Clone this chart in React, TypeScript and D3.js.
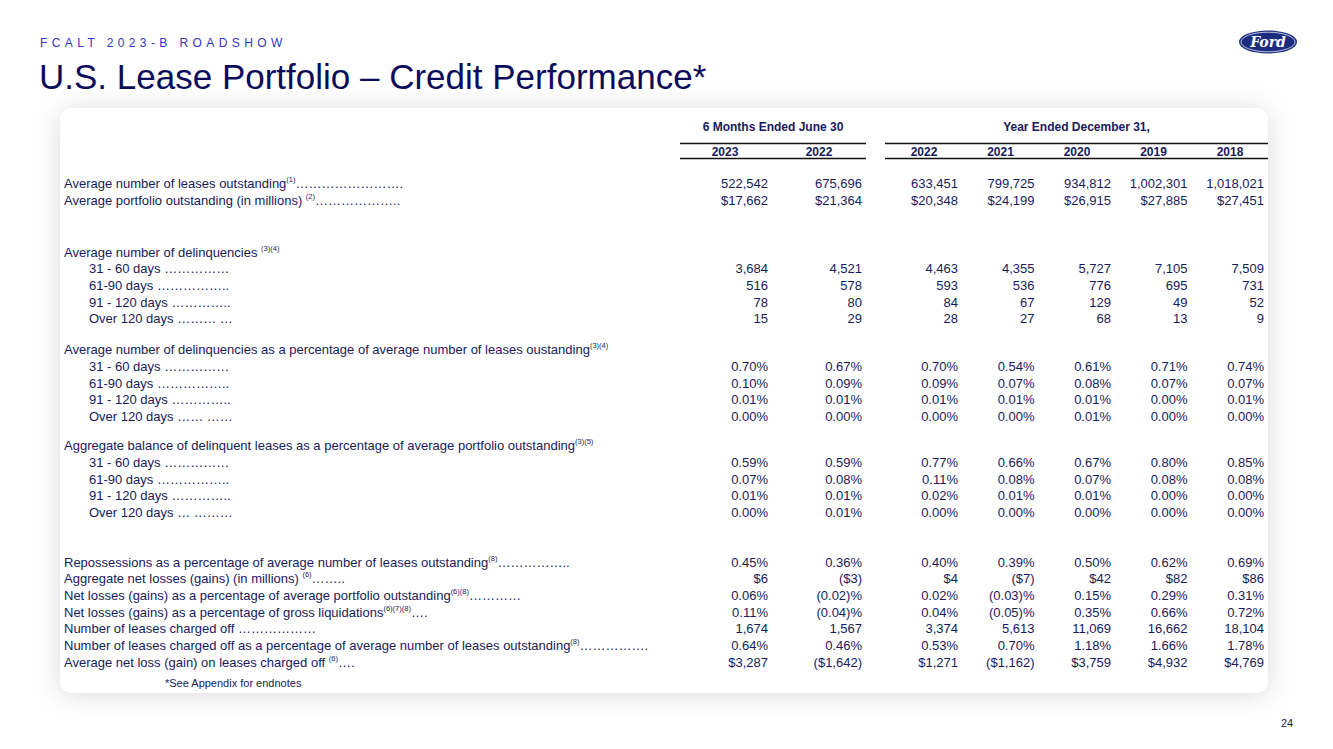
import React from 'react';
import * as d3 from 'd3';

// column headings
const periodGroups = ['6 Months Ended June 30', 'Year Ended December 31,'];
const periods = ['2023', '2022', '2022', '2021', '2020', '2019', '2018'];
const periodGroupOf = [0, 0, 1, 1, 1, 1, 1];

// table values, one array per row
const leasesOutstanding = ['522,542', '675,696', '633,451', '799,725', '934,812', '1,002,301', '1,018,021'];
const portfolioOutstanding = ['$17,662', '$21,364', '$20,348', '$24,199', '$26,915', '$27,885', '$27,451'];
const delinq3160 = ['3,684', '4,521', '4,463', '4,355', '5,727', '7,105', '7,509'];
const delinq6190 = ['516', '578', '593', '536', '776', '695', '731'];
const delinq91120 = ['78', '80', '84', '67', '129', '49', '52'];
const delinqOver120 = ['15', '29', '28', '27', '68', '13', '9'];
const delinqPct3160 = ['0.70%', '0.67%', '0.70%', '0.54%', '0.61%', '0.71%', '0.74%'];
const delinqPct6190 = ['0.10%', '0.09%', '0.09%', '0.07%', '0.08%', '0.07%', '0.07%'];
const delinqPct91120 = ['0.01%', '0.01%', '0.01%', '0.01%', '0.01%', '0.00%', '0.01%'];
const delinqPctOver120 = ['0.00%', '0.00%', '0.00%', '0.00%', '0.01%', '0.00%', '0.00%'];
const balancePct3160 = ['0.59%', '0.59%', '0.77%', '0.66%', '0.67%', '0.80%', '0.85%'];
const balancePct6190 = ['0.07%', '0.08%', '0.11%', '0.08%', '0.07%', '0.08%', '0.08%'];
const balancePct91120 = ['0.01%', '0.01%', '0.02%', '0.01%', '0.01%', '0.00%', '0.00%'];
const balancePctOver120 = ['0.00%', '0.01%', '0.00%', '0.00%', '0.00%', '0.00%', '0.00%'];
const repossessionsPct = ['0.45%', '0.36%', '0.40%', '0.39%', '0.50%', '0.62%', '0.69%'];
const netLosses = ['$6', '($3)', '$4', '($7)', '$42', '$82', '$86'];
const netLossPctPortfolio = ['0.06%', '(0.02)%', '0.02%', '(0.03)%', '0.15%', '0.29%', '0.31%'];
const netLossPctLiquidations = ['0.11%', '(0.04)%', '0.04%', '(0.05)%', '0.35%', '0.66%', '0.72%'];
const chargedOff = ['1,674', '1,567', '3,374', '5,613', '11,069', '16,662', '18,104'];
const chargedOffPct = ['0.64%', '0.46%', '0.53%', '0.70%', '1.18%', '1.66%', '1.78%'];
const avgNetLoss = ['$3,287', '($1,642)', '$1,271', '($1,162)', '$3,759', '$4,932', '$4,769'];

type Row = { label: string; sup?: string; leader?: string; sub?: boolean; values?: string[] };

// dotted leader: n ellipsis glyphs plus a tail
const dots = (n: number, tail = '') => '\u2026'.repeat(n) + tail;

const sections: Row[][] = [
  [
    { label: 'Average number of leases outstanding', sup: '(1)', leader: dots(8, '.'), values: leasesOutstanding },
    { label: 'Average portfolio outstanding (in millions) ', sup: '(2)', leader: dots(6, '..'), values: portfolioOutstanding },
  ],
  [
    { label: 'Average number of delinquencies ', sup: '(3)(4)' },
    { label: '31 - 60 days ', leader: dots(5), sub: true, values: delinq3160 },
    { label: '61-90 days ', leader: dots(5, '..'), sub: true, values: delinq6190 },
    { label: '91 - 120 days ', leader: dots(4, '..'), sub: true, values: delinq91120 },
    { label: 'Over 120 days ', leader: dots(3, ' \u2026'), sub: true, values: delinqOver120 },
  ],
  [
    { label: 'Average number of delinquencies as a percentage of average number of leases oustanding', sup: '(3)(4)' },
    { label: '31 - 60 days ', leader: dots(5), sub: true, values: delinqPct3160 },
    { label: '61-90 days ', leader: dots(5, '..'), sub: true, values: delinqPct6190 },
    { label: '91 - 120 days ', leader: dots(4, '..'), sub: true, values: delinqPct91120 },
    { label: 'Over 120 days ', leader: dots(2, ' \u2026\u2026'), sub: true, values: delinqPctOver120 },
  ],
  [
    { label: 'Aggregate balance of delinquent leases as a percentage of average portfolio outstanding', sup: '(3)(5)' },
    { label: '31 - 60 days ', leader: dots(5), sub: true, values: balancePct3160 },
    { label: '61-90 days ', leader: dots(5, '..'), sub: true, values: balancePct6190 },
    { label: '91 - 120 days ', leader: dots(4, '..'), sub: true, values: balancePct91120 },
    { label: 'Over 120 days ', leader: dots(1, ' \u2026\u2026\u2026'), sub: true, values: balancePctOver120 },
  ],
  [
    { label: 'Repossessions as a percentage of average number of leases outstanding', sup: '(8)', leader: dots(5, '..'), values: repossessionsPct },
    { label: 'Aggregate net losses (gains) (in millions) ', sup: '(6)', leader: dots(2, '..'), values: netLosses },
    { label: 'Net losses (gains) as a percentage of average portfolio outstanding', sup: '(6)(8)', leader: dots(4), values: netLossPctPortfolio },
    { label: 'Net losses (gains) as a percentage of gross liquidations', sup: '(6)(7)(8)', leader: dots(1, '.'), values: netLossPctLiquidations },
    { label: 'Number of leases charged off ', leader: dots(6), values: chargedOff },
    { label: 'Number of leases charged off as a percentage of average number of leases outstanding', sup: '(8)', leader: dots(5, '.'), values: chargedOffPct },
    { label: 'Average net loss (gain) on leases charged off ', sup: '(6)', leader: dots(1, '.'), values: avgNetLoss },
  ],
];
// blank line slots before each section
const sectionGaps = [0, 2.1, 0.88, 0.75, 2];

const W = 1333;
const H = 749;
const navy = '#171a5c';
const font = '"Liberation Sans", Arial, sans-serif';
const fs = 13;
const supFs = 7.5;

const card = { x: 60, y: 108, w: 1208, h: 585 };

// x: right edge of each value column
const xSix = d3.scalePoint<number>().domain([0, 1]).range([768, 862]);
const xYear = d3.scalePoint<number>().domain([2, 3, 4, 5, 6]).range([958, 1264]);
const colX = (i: number) => (periodGroupOf[i] === 0 ? xSix(i)! : xYear(i)!);

// y: line slot -> row centre
const y = d3.scaleLinear().domain([0, 1]).range([184, 200.65]);

const App = () => {
  const rows: { row: Row; slot: number }[] = [];
  let slot = 0;
  sections.forEach((sec, si) => {
    slot += sectionGaps[si];
    sec.forEach((row) => {
      rows.push({ row, slot });
      slot += 1;
    });
  });
  const footSlot = slot + 0.25;

  const groupLines = [
    { x1: colX(0) - 88, x2: colX(1) + 4 },
    { x1: colX(2) - 73, x2: card.x + card.w },
  ];

  return (
    <svg width={W} height={H} style={{ position: 'absolute', left: 0, top: 0, background: '#fff' }} fontFamily={font}>
      <defs>
        <filter id="shadow" x="-10%" y="-10%" width="120%" height="120%">
          <feDropShadow dx="0" dy="2" stdDeviation="13" floodColor="#000" floodOpacity="0.14" />
        </filter>
      </defs>

      <text x={40} y={47} fontSize={12} letterSpacing={4.4} fill="#3434c4">FCALT 2023-B ROADSHOW</text>
      <text x={39} y={89} fontSize={35} fill="#0c0c5a">U.S. Lease Portfolio – Credit Performance*</text>

      {/* Ford oval */}
      <g transform="translate(1268,42)">
        <ellipse rx={29} ry={11.5} fill="#1b2c7e" />
        <ellipse rx={27} ry={9.8} fill="none" stroke="#fff" strokeWidth={0.7} />
        <text y={4.5} textAnchor="middle" fontSize={14} fontStyle="italic" fontWeight="bold" fontFamily='"DejaVu Serif", serif' fill="#fff">Ford</text>
      </g>

      <rect x={card.x} y={card.y} width={card.w} height={card.h} rx={12} fill="#fff" filter="url(#shadow)" />

      {/* column headings */}
      {periodGroups.map((g, gi) => (
        <g key={g}>
          <text x={(groupLines[gi].x1 + groupLines[gi].x2) / 2} y={131} textAnchor="middle" fontSize={12} fontWeight="bold" fill={navy}>{g}</text>
          <line x1={groupLines[gi].x1} x2={groupLines[gi].x2} y1={143.5} y2={143.5} stroke="#111" strokeWidth={1.3} />
          <line x1={groupLines[gi].x1} x2={groupLines[gi].x2} y1={158.5} y2={158.5} stroke="#111" strokeWidth={1.3} />
        </g>
      ))}
      {periods.map((p, i) => (
        <text key={i} x={colX(i) - (periodGroupOf[i] === 0 ? 43 : 34)} y={155.5} textAnchor="middle" fontSize={12} fontWeight="bold" fill={navy}>{p}</text>
      ))}

      {/* rows */}
      {rows.map(({ row, slot }, ri) => {
        const base = y(slot) + 4.3;
        return (
          <g key={ri}>
            <text x={row.sub ? 89 : 64} y={base} fontSize={fs} fill={navy}>
              <tspan>{row.label}</tspan>
              {row.sup && <tspan fontSize={supFs} dy={-6}>{row.sup}</tspan>}
              {row.leader && <tspan dy={row.sup ? 6 : 0}>{row.leader}</tspan>}
            </text>
            {row.values &&
              row.values.map((v, i) => (
                <text key={i} x={colX(i)} y={base} textAnchor="end" fontSize={fs} fill={navy}>{v}</text>
              ))}
          </g>
        );
      })}

      <text x={165} y={y(footSlot) + 4} fontSize={11} fill={navy}>*See Appendix for endnotes</text>

      <text x={1287} y={727} textAnchor="middle" fontSize={11} fill={navy}>24</text>
    </svg>
  );
};

export default App;
